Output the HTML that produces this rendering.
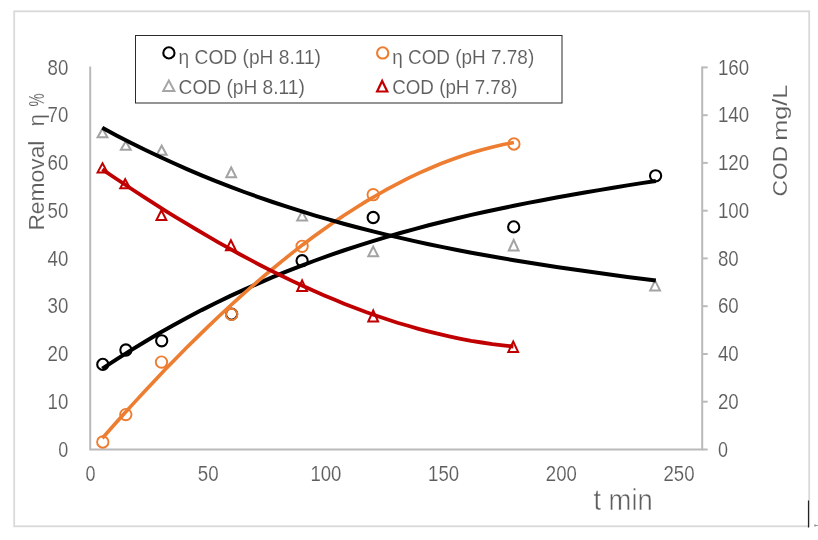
<!DOCTYPE html>
<html><head><meta charset="utf-8"><title>COD removal chart</title>
<style>
html,body{margin:0;padding:0;background:#fff;}
body{width:818px;height:540px;overflow:hidden;}
svg{display:block;}
text{font-family:"Liberation Sans","DejaVu Sans",sans-serif;fill:#5e5e5e;stroke:#fff;stroke-width:0.12px;}
</style></head><body>
<svg width="818" height="540" viewBox="0 0 818 540">
<rect x="0" y="0" width="818" height="540" fill="#fff"/>

<rect x="14.2" y="11.3" width="795" height="515" fill="none" stroke="#d9d9d9" stroke-width="1.8"/>
<line x1="808.5" y1="500.5" x2="808.5" y2="527.5" stroke="#222" stroke-width="1.2"/>
<path d="M814.5,525.5 H818 M815,524 V527" stroke="#888" stroke-width="0.8" fill="none"/>
<g stroke="#bababa" stroke-width="2" fill="none">
<path d="M90.2,66.4 V449.5 H702.2 V66.4"/>
<line x1="702.2" y1="449.5" x2="707.7" y2="449.5"/>
<line x1="702.2" y1="401.7" x2="707.7" y2="401.7"/>
<line x1="702.2" y1="354.0" x2="707.7" y2="354.0"/>
<line x1="702.2" y1="306.2" x2="707.7" y2="306.2"/>
<line x1="702.2" y1="258.4" x2="707.7" y2="258.4"/>
<line x1="702.2" y1="210.7" x2="707.7" y2="210.7"/>
<line x1="702.2" y1="162.9" x2="707.7" y2="162.9"/>
<line x1="702.2" y1="115.2" x2="707.7" y2="115.2"/>
<line x1="702.2" y1="67.4" x2="707.7" y2="67.4"/>
</g>
<text x="58.3" y="456.7" font-size="21.8" textLength="10.0" lengthAdjust="spacingAndGlyphs">0</text>
<text x="47.5" y="408.9" font-size="21.8" textLength="20.8" lengthAdjust="spacingAndGlyphs">10</text>
<text x="47.5" y="361.2" font-size="21.8" textLength="20.8" lengthAdjust="spacingAndGlyphs">20</text>
<text x="47.5" y="313.4" font-size="21.8" textLength="20.8" lengthAdjust="spacingAndGlyphs">30</text>
<text x="47.5" y="265.6" font-size="21.8" textLength="20.8" lengthAdjust="spacingAndGlyphs">40</text>
<text x="47.5" y="217.9" font-size="21.8" textLength="20.8" lengthAdjust="spacingAndGlyphs">50</text>
<text x="47.5" y="170.1" font-size="21.8" textLength="20.8" lengthAdjust="spacingAndGlyphs">60</text>
<text x="47.5" y="122.4" font-size="21.8" textLength="20.8" lengthAdjust="spacingAndGlyphs">70</text>
<text x="47.5" y="74.6" font-size="21.8" textLength="20.8" lengthAdjust="spacingAndGlyphs">80</text>
<text x="717.9" y="456.7" font-size="21.8" textLength="10.0" lengthAdjust="spacingAndGlyphs">0</text>
<text x="717.9" y="408.9" font-size="21.8" textLength="20.8" lengthAdjust="spacingAndGlyphs">20</text>
<text x="717.9" y="361.2" font-size="21.8" textLength="20.8" lengthAdjust="spacingAndGlyphs">40</text>
<text x="717.9" y="313.4" font-size="21.8" textLength="20.8" lengthAdjust="spacingAndGlyphs">60</text>
<text x="717.9" y="265.6" font-size="21.8" textLength="20.8" lengthAdjust="spacingAndGlyphs">80</text>
<text x="717.9" y="217.9" font-size="21.8" textLength="31.2" lengthAdjust="spacingAndGlyphs">100</text>
<text x="717.9" y="170.1" font-size="21.8" textLength="31.2" lengthAdjust="spacingAndGlyphs">120</text>
<text x="717.9" y="122.4" font-size="21.8" textLength="31.2" lengthAdjust="spacingAndGlyphs">140</text>
<text x="717.9" y="74.6" font-size="21.8" textLength="31.2" lengthAdjust="spacingAndGlyphs">160</text>
<text x="85.5" y="480.8" font-size="21.8" textLength="10.0" lengthAdjust="spacingAndGlyphs">0</text>
<text x="197.8" y="480.8" font-size="21.8" textLength="20.8" lengthAdjust="spacingAndGlyphs">50</text>
<text x="310.4" y="480.8" font-size="21.8" textLength="31.0" lengthAdjust="spacingAndGlyphs">100</text>
<text x="428.1" y="480.8" font-size="21.8" textLength="31.0" lengthAdjust="spacingAndGlyphs">150</text>
<text x="545.8" y="480.8" font-size="21.8" textLength="31.0" lengthAdjust="spacingAndGlyphs">200</text>
<text x="663.5" y="480.8" font-size="21.8" textLength="31.0" lengthAdjust="spacingAndGlyphs">250</text>
<text x="593.4" y="509.9" font-size="28.8" textLength="59.4" lengthAdjust="spacingAndGlyphs" style="stroke-width:0.5px">t min</text>
<text transform="translate(43.9,230.6) rotate(-90)" font-size="21.4"><tspan x="0" textLength="90" lengthAdjust="spacingAndGlyphs">Removal</tspan> <tspan x="104" textLength="12.6" lengthAdjust="spacingAndGlyphs">η</tspan><tspan x="124" textLength="13.2" lengthAdjust="spacingAndGlyphs">%</tspan></text>
<text transform="translate(786.6,196.4) rotate(-90)" font-size="21"><tspan x="0" textLength="50.6" lengthAdjust="spacingAndGlyphs">COD</tspan> <tspan x="55.7" textLength="55.9" lengthAdjust="spacingAndGlyphs">mg/L</tspan></text>
<g fill="none" stroke="#000" stroke-width="2.1">
<circle cx="102.8" cy="364.4" r="5.6"/>
<circle cx="125.9" cy="350.0" r="5.6"/>
<circle cx="161.7" cy="340.8" r="5.6"/>
<circle cx="231.6" cy="314.1" r="5.6"/>
<circle cx="302.1" cy="260.7" r="5.6"/>
<circle cx="373.2" cy="217.5" r="5.6"/>
<circle cx="513.7" cy="226.9" r="5.6"/>
<circle cx="655.6" cy="175.8" r="5.6"/>
<path stroke-width="4.0" d="M102.3,368.7 L116.5,359.4 L130.7,350.4 L144.9,341.7 L159.1,333.3 L173.3,325.3 L187.5,317.6 L201.6,310.1 L215.8,303.0 L230.0,296.1 L244.2,289.6 L258.4,283.3 L272.6,277.2 L286.8,271.4 L301.0,265.8 L315.2,260.5 L329.4,255.4 L343.6,250.5 L357.8,245.9 L372.0,241.4 L386.1,237.1 L400.3,233.0 L414.5,229.1 L428.7,225.3 L442.9,221.7 L457.1,218.2 L471.3,214.9 L485.5,211.8 L499.7,208.7 L513.9,205.8 L528.1,202.9 L542.3,200.2 L556.5,197.5 L570.6,195.0 L584.8,192.5 L599.0,190.1 L613.2,187.7 L627.4,185.4 L641.6,183.1 L655.8,180.9"/>
</g>
<g fill="none" stroke="#ed7d31" stroke-width="1.9">
<circle cx="102.8" cy="442.0" r="5.7"/>
<circle cx="125.8" cy="414.6" r="5.7"/>
<circle cx="161.5" cy="362.1" r="5.7"/>
<circle cx="231.6" cy="314.4" r="5.7"/>
<circle cx="302.1" cy="246.3" r="5.7"/>
<circle cx="373.2" cy="194.7" r="5.7"/>
<circle cx="513.9" cy="144.0" r="5.7"/>
<path stroke-width="3.6" d="M102.3,438.3 L112.9,426.3 L123.4,414.5 L134.0,402.9 L144.5,391.5 L155.1,380.2 L165.6,369.1 L176.2,358.3 L186.7,347.6 L197.3,337.1 L207.8,326.9 L218.4,316.8 L228.9,307.0 L239.5,297.4 L250.1,288.0 L260.6,278.9 L271.2,270.0 L281.7,261.3 L292.3,252.9 L302.8,244.7 L313.4,236.8 L323.9,229.2 L334.5,221.8 L345.0,214.8 L355.6,207.9 L366.1,201.4 L376.7,195.2 L387.3,189.2 L397.8,183.6 L408.4,178.2 L418.9,173.2 L429.5,168.5 L440.0,164.0 L450.6,160.0 L461.1,156.2 L471.7,152.8 L482.2,149.7 L492.8,147.0 L503.3,144.6 L513.9,142.5"/>
</g>
<g fill="none" stroke="#a3a3a3" stroke-width="2" stroke-linejoin="miter">
<path d="M102.5,128.6 L107.4,137.3 L97.6,137.3 Z"/>
<path d="M125.8,141.3 L130.7,149.7 L120.9,149.7 Z"/>
<path d="M161.7,145.7 L166.6,154.8 L156.8,154.8 Z"/>
<path d="M231.2,167.5 L236.1,177.3 L226.3,177.3 Z"/>
<path d="M302.1,211.3 L307.0,220.4 L297.2,220.4 Z"/>
<path d="M373.2,246.6 L378.1,256.2 L368.3,256.2 Z"/>
<path d="M513.7,239.8 L518.6,250.5 L508.8,250.5 Z"/>
<path d="M655.1,280.6 L660.0,290.4 L650.2,290.4 Z"/>
<path stroke="#000" stroke-width="4.0" d="M102.3,127.8 L116.5,135.4 L130.7,142.7 L144.9,149.8 L159.1,156.5 L173.3,163.0 L187.5,169.3 L201.6,175.3 L215.8,181.1 L230.0,186.7 L244.2,192.0 L258.4,197.1 L272.6,202.0 L286.8,206.7 L301.0,211.2 L315.2,215.6 L329.4,219.7 L343.6,223.7 L357.8,227.5 L372.0,231.1 L386.1,234.6 L400.3,237.9 L414.5,241.1 L428.7,244.2 L442.9,247.1 L457.1,250.0 L471.3,252.7 L485.5,255.3 L499.7,257.7 L513.9,260.2 L528.1,262.5 L542.3,264.7 L556.5,266.9 L570.6,269.0 L584.8,271.0 L599.0,273.0 L613.2,275.0 L627.4,276.9 L641.6,278.7 L655.8,280.6"/>
</g>
<g fill="none" stroke="#c00000" stroke-width="2" stroke-linejoin="miter">
<path d="M102.5,163.3 L107.4,172.4 L97.6,172.4 Z"/>
<path d="M125.2,179.2 L130.1,188.3 L120.3,188.3 Z"/>
<path d="M161.4,210.3 L166.3,220.1 L156.5,220.1 Z"/>
<path d="M230.9,240.3 L235.8,250.2 L226.0,250.2 Z"/>
<path d="M302.1,280.3 L307.0,291.0 L297.2,291.0 Z"/>
<path d="M373.2,310.5 L378.1,321.5 L368.3,321.5 Z"/>
<path d="M513.2,341.5 L518.1,351.9 L508.3,351.9 Z"/>
<path stroke-width="3.8" d="M102.3,169.4 L112.8,176.5 L123.4,183.5 L133.9,190.5 L144.5,197.4 L155.0,204.1 L165.5,210.8 L176.1,217.3 L186.6,223.7 L197.2,230.0 L207.7,236.2 L218.3,242.3 L228.8,248.2 L239.3,254.0 L249.9,259.6 L260.4,265.2 L271.0,270.6 L281.5,275.8 L292.0,280.9 L302.6,285.8 L313.1,290.6 L323.7,295.2 L334.2,299.6 L344.7,303.9 L355.3,308.0 L365.8,312.0 L376.4,315.7 L386.9,319.3 L397.4,322.7 L408.0,325.8 L418.5,328.8 L429.1,331.6 L439.6,334.2 L450.2,336.6 L460.7,338.8 L471.2,340.8 L481.8,342.5 L492.3,344.1 L502.9,345.4 L513.4,346.5"/>
</g>
<rect x="135.5" y="35.5" width="426.5" height="67.5" fill="#fff" stroke="#2b2b2b" stroke-width="1"/>
<circle cx="168.9" cy="52.9" r="5.6" fill="none" stroke="#000" stroke-width="2.1"/>
<circle cx="382.7" cy="52.9" r="5.65" fill="none" stroke="#ed7d31" stroke-width="2.1"/>
<path d="M168.8,80.5 L174.4,91.0 L163.2,91.0 Z" fill="none" stroke="#a6a6a6" stroke-width="2"/>
<path d="M382.2,80.9 L387.3,91.5 L377.1,91.5 Z" fill="none" stroke="#c00000" stroke-width="2.2"/>
<text x="178.6" y="63.6" font-size="21" textLength="142.4" lengthAdjust="spacingAndGlyphs">η COD (pH 8.11)</text>
<text x="178.6" y="93.8" font-size="21" textLength="126.2" lengthAdjust="spacingAndGlyphs">COD (pH 8.11)</text>
<text x="392.2" y="63.6" font-size="21" textLength="142" lengthAdjust="spacingAndGlyphs">η COD (pH 7.78)</text>
<text x="392.2" y="93.8" font-size="21" textLength="125.3" lengthAdjust="spacingAndGlyphs">COD (pH 7.78)</text>
</svg></body></html>
